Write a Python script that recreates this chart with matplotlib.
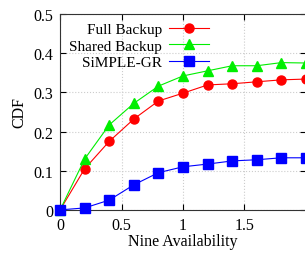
import matplotlib as mpl
mpl.use("Agg")
import matplotlib.pyplot as plt
from matplotlib.ticker import FuncFormatter

plt.rcParams["font.family"] = ["Liberation Serif", "DejaVu Serif"]
plt.rcParams["font.size"] = 11.5

nine_availability = [0.0, 0.2, 0.4, 0.6, 0.8, 1.0, 1.2, 1.4, 1.6, 1.8, 2.0]
full_backup = [0.0, 0.105, 0.175, 0.232, 0.278, 0.298, 0.319, 0.322, 0.327, 0.332, 0.334]
shared_backup = [0.0, 0.130, 0.217, 0.272, 0.316, 0.342, 0.355, 0.368, 0.368, 0.376, 0.375]
simple_gr = [0.0, 0.005, 0.025, 0.064, 0.095, 0.110, 0.117, 0.125, 0.128, 0.133, 0.133]

series = [
    ("Full Backup", full_backup, "#ff0000", "o"),
    ("Shared Backup", shared_backup, "#00ee00", "^"),
    ("SiMPLE-GR", simple_gr, "#0000ff", "s"),
]

fig = plt.figure(figsize=(3.05, 2.55), dpi=100)
ax = fig.add_axes([0.197, 0.173, 0.806, 0.768])

for label, values, color, marker in series:
    ax.plot(
        nine_availability,
        values,
        color=color,
        marker=marker,
        markersize=6.5,
        linewidth=0.8,
        label=label,
        clip_on=False,
        zorder=3,
    )

ax.set_xlim(0, 2)
ax.set_ylim(0, 0.5)
ax.set_xticks([0, 0.5, 1, 1.5])
ax.set_yticks([0, 0.1, 0.2, 0.3, 0.4, 0.5])
fmt = FuncFormatter(lambda v, pos: f"{v:g}")
ax.xaxis.set_major_formatter(fmt)
ax.yaxis.set_major_formatter(fmt)
ax.tick_params(direction="in", top=True, right=True, length=4, width=0.8, pad=5)
ax.grid(True, linestyle=":", color="#cccccc", linewidth=0.8)
for spine in ax.spines.values():
    spine.set_linewidth(0.8)
    spine.set_color("#333333")

ax.set_xlabel("Nine Availability", labelpad=0)
ax.set_ylabel("CDF", labelpad=4)

ax.legend(
    loc="upper right",
    bbox_to_anchor=(0.71, 0.937),
    bbox_transform=fig.transFigure,
    frameon=False,
    markerfirst=False,
    handlelength=2.6,
    handletextpad=0.45,
    labelspacing=0.18,
    borderpad=0,
    fontsize=11,
)

fig.savefig("out.png", dpi=100)
